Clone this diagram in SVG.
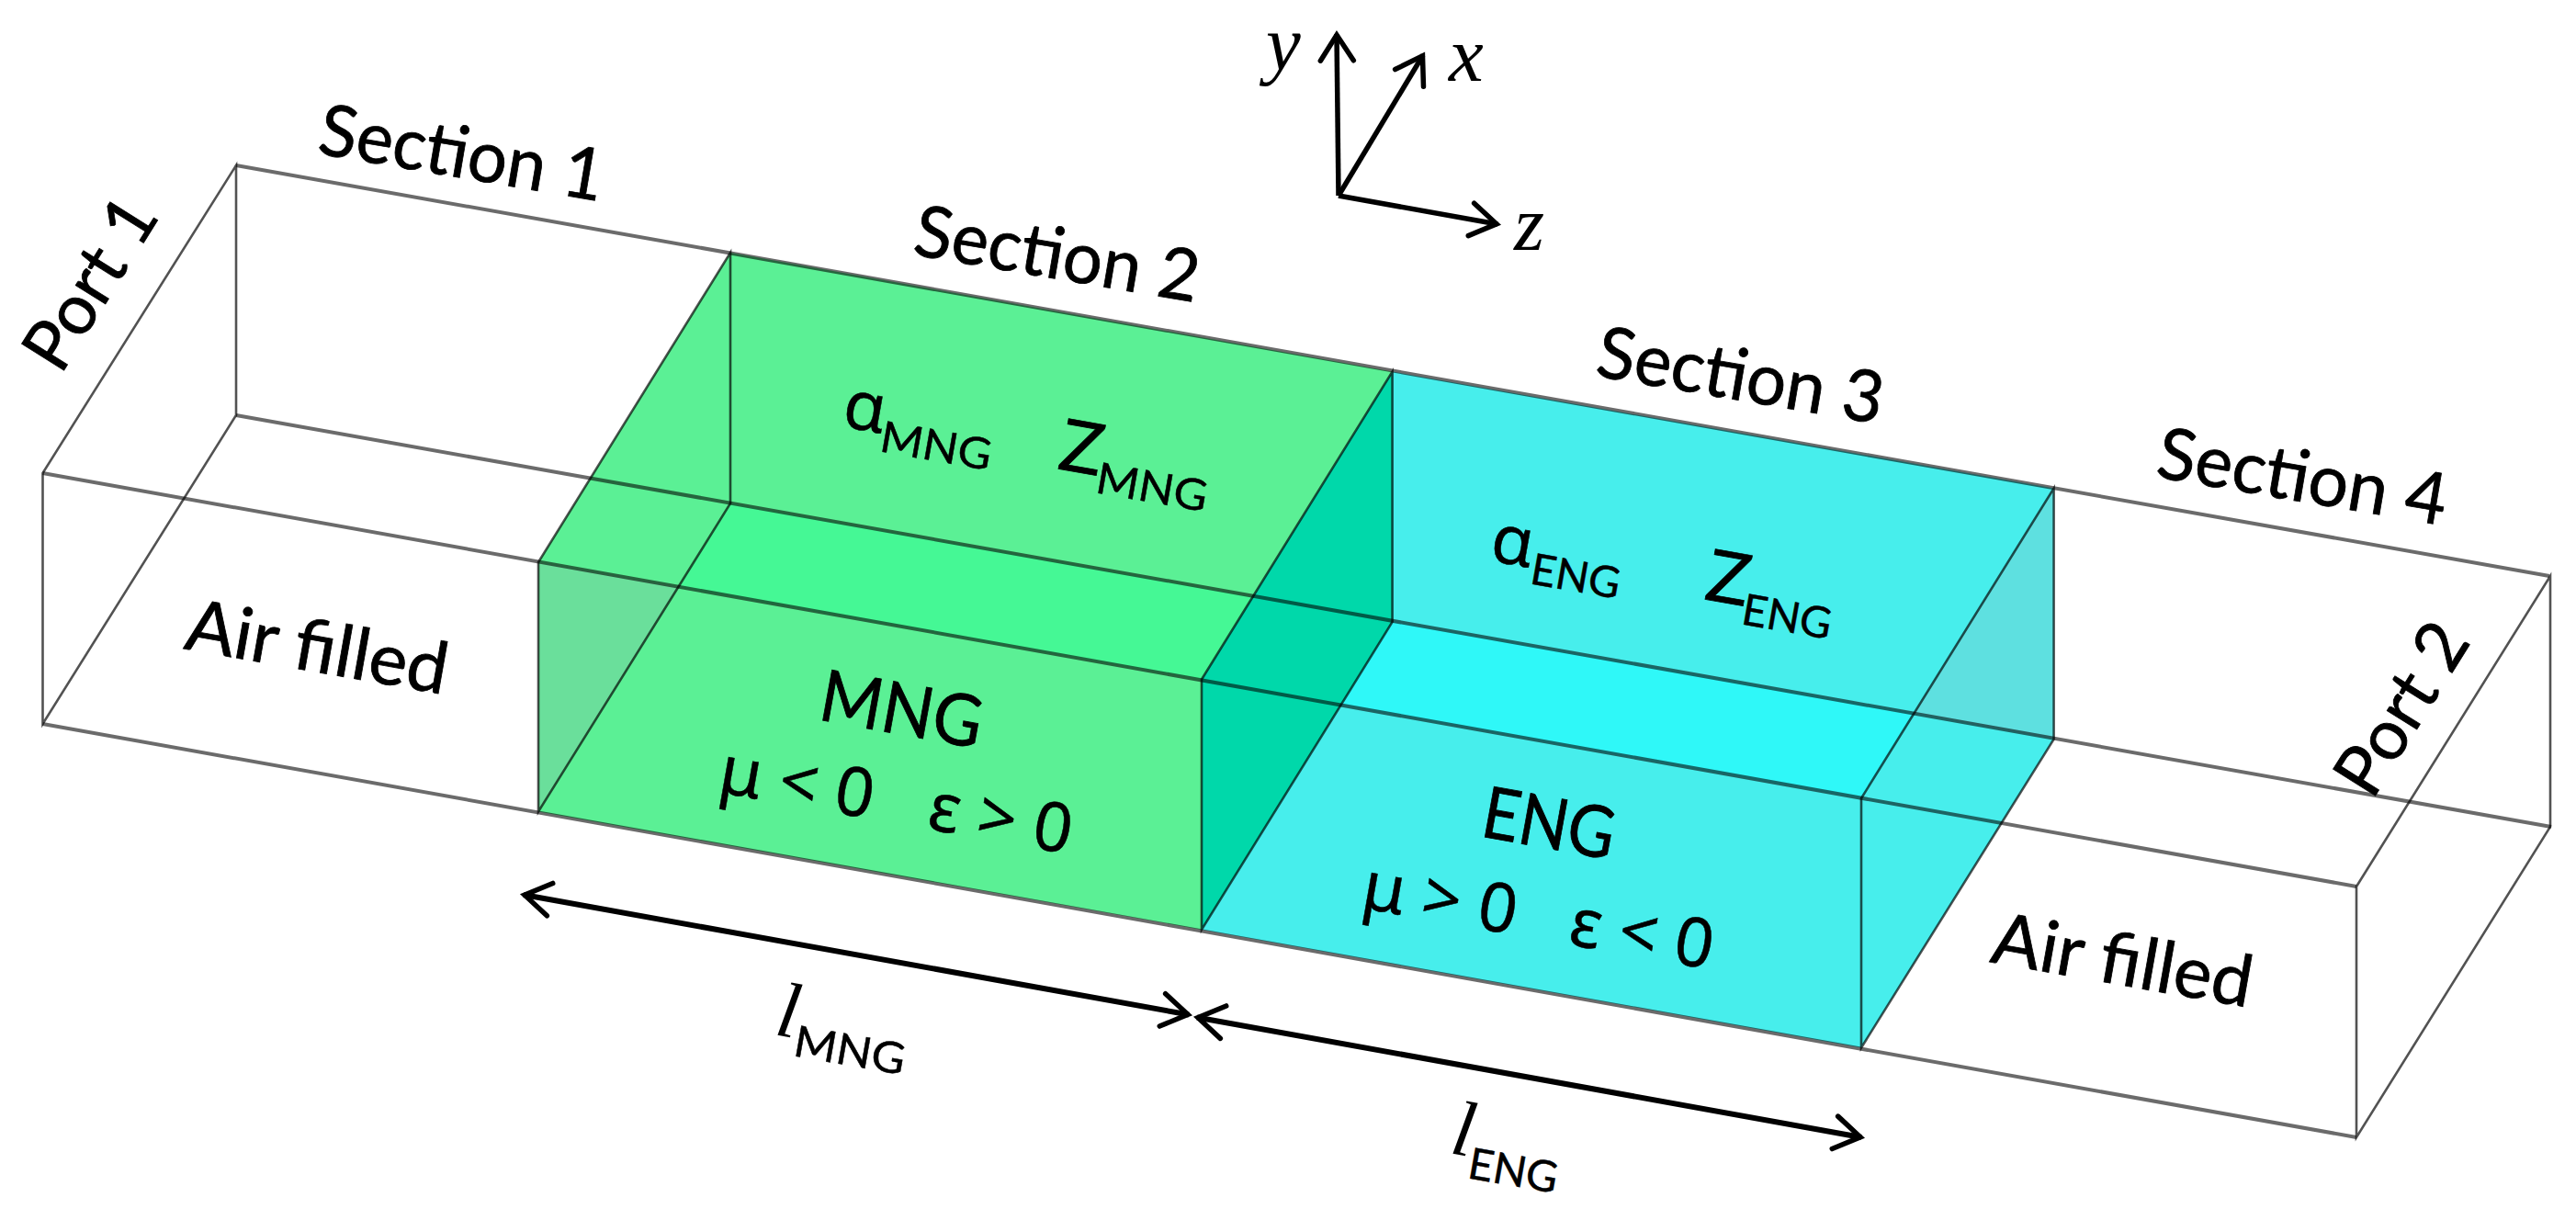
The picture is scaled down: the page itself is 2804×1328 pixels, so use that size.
<svg xmlns="http://www.w3.org/2000/svg" width="2804" height="1328" viewBox="0 0 2804 1328">
<style>
.t{font-family:Lato,"Noto Sans",sans-serif;font-size:78px;fill:#000;stroke:#000;stroke-width:.8}
.p{font-family:Lato,"Noto Sans",sans-serif;font-size:76px;fill:#000;stroke:#000;stroke-width:.8}
.s{font-family:Lato,"Noto Sans",sans-serif;font-size:47px;fill:#000;stroke:#000;stroke-width:.5}
.g{font-family:"Noto Sans",sans-serif;font-size:74px;fill:#000;stroke:#000;stroke-width:.5}
.m{font-family:"Liberation Serif",serif;font-style:italic;font-size:85px;fill:#000}
.z{fill:none;stroke:#000;stroke-opacity:.58;stroke-width:4}
.v{fill:none;stroke:#000;stroke-opacity:.68;stroke-width:2.6}
.a{fill:none;stroke:#000;stroke-width:5.5;marker-end:url(#h)}
.d{fill:none;stroke:#000;stroke-width:6;marker-start:url(#hs);marker-end:url(#h)}
</style>
<defs>
<marker id="h" markerUnits="userSpaceOnUse" markerWidth="60" markerHeight="60" refX="45" refY="30" orient="auto" overflow="visible"><path d="M16,12 L44,30 L16,48" fill="none" stroke="#000" stroke-width="5.5" stroke-linecap="round"/></marker>
<marker id="hs" markerUnits="userSpaceOnUse" markerWidth="60" markerHeight="60" refX="15" refY="30" orient="auto" overflow="visible"><path d="M44,12 L16,30 L44,48" fill="none" stroke="#000" stroke-width="5.5" stroke-linecap="round"/></marker>
</defs>
<rect width="2804" height="1328" fill="#fff"/>
<g id="mng-block">
<polygon fill="#5BF095" points="586,612 795,275 1515.6,404.5 1308,739.5 1308,1012 586,883.5"/>
<polygon fill="#45F895" points="795,548 1363.6,649.7 1308,739.5 738.4,639"/>
<polygon fill="#6ADF9B" points="586,612 738.4,639 586,883.5"/>
</g>
<g id="eng-block">
<polygon fill="#47EEEC" points="1308,739.5 1515.6,404.5 2235.6,531.5 2235.6,804.6 2026,1140.5 1308,1012"/>
<polygon fill="#2FF8F8" points="1515.6,677 2083.6,776 2026,869 1460,767"/>
<polygon fill="#5EE0E0" points="2083.6,776 2235.6,531.5 2235.6,804.6"/>
</g>
<g id="mng-eng-overlap"><polygon fill="#00D8AA" points="1308,739.5 1515.6,404.5 1515.6,677 1308,1012"/></g>
<g id="connectors">
<path class="z" d="M257,180 L2775,627 M257,452 L2777,900 M46.5,515 L2565,965 M46.5,788 L2565,1238"/>
<path class="v" d="M46.5,515 L257,180 L257,452 L46.5,788 Z M586,612 L795,275 L795,548 L586,883.5 Z M1308,739.5 L1515.6,404.5 L1515.6,677 L1308,1012 Z M2026,869 L2235.6,531.5 L2235.6,804.6 L2026,1140.5 Z M2565,965 L2776,627 L2776,900 L2565,1238 Z"/>
<path class="a" d="M1457,213 L1455,37"/>
<path class="a" d="M1457,213 L1549,60"/>
<path class="a" d="M1457,213 L1630,244"/>
<path class="d" d="M570,974 L1294,1104.5"/>
<path class="d" d="M1303,1107.5 L2026,1238"/>
</g>
<g id="axis-labels">
<text class="m" x="1378" y="76">y</text>
<text class="m" x="1577" y="88">x</text>
<text class="m" x="1648" y="272">z</text>
</g>
<g id="port-labels">
<text class="p" transform="translate(66,409) rotate(-58)" textLength="205" lengthAdjust="spacingAndGlyphs">Port 1</text>
<text class="p" transform="translate(2582,872) rotate(-58)" textLength="205" lengthAdjust="spacingAndGlyphs">Port 2</text>
</g>
<g id="section-labels">
<text class="t" transform="translate(344,167) rotate(9.6)" textLength="313" lengthAdjust="spacingAndGlyphs">Section 1</text>
<text class="t" transform="translate(992,277) rotate(9.6)" textLength="313" lengthAdjust="spacingAndGlyphs">Section 2</text>
<text class="t" transform="translate(1735,409) rotate(9.6)" textLength="315" lengthAdjust="spacingAndGlyphs">Section 3</text>
<text class="t" transform="translate(2345,519) rotate(9.6)" textLength="318" lengthAdjust="spacingAndGlyphs">Section 4</text>
</g>
<g id="air-labels">
<text class="t" transform="translate(199,706) rotate(10)" textLength="288" lengthAdjust="spacingAndGlyphs">Air filled</text>
<text class="t" transform="translate(2165,1047) rotate(10)" textLength="286" lengthAdjust="spacingAndGlyphs">Air filled</text>
</g>
<g id="mng-labels">
<text class="g" transform="translate(915,464) rotate(10)">α</text>
<text class="s" transform="translate(956,491) rotate(10)" textLength="122" lengthAdjust="spacingAndGlyphs">MNG</text>
<text class="t" transform="translate(1150,510) rotate(10)">Z</text>
<text class="s" transform="translate(1191,536) rotate(10)" textLength="122" lengthAdjust="spacingAndGlyphs">MNG</text>
<text class="t" transform="translate(889,783) rotate(10.3)" textLength="178" lengthAdjust="spacingAndGlyphs">MNG</text>
<text class="g" transform="translate(780,862) rotate(10)">μ &lt; 0<tspan dx="42"> ε &gt; 0</tspan></text>
</g>
<g id="eng-labels">
<text class="g" transform="translate(1620,610) rotate(10)">α</text>
<text class="s" transform="translate(1664,635) rotate(10)" textLength="98" lengthAdjust="spacingAndGlyphs">ENG</text>
<text class="t" transform="translate(1854,652) rotate(10)">Z</text>
<text class="s" transform="translate(1894,679) rotate(10)" textLength="98" lengthAdjust="spacingAndGlyphs">ENG</text>
<text class="t" transform="translate(1610,910) rotate(10.3)" textLength="145" lengthAdjust="spacingAndGlyphs">ENG</text>
<text class="g" transform="translate(1480,988) rotate(10)">μ &gt; 0<tspan dx="40"> ε &lt; 0</tspan></text>
</g>
<g id="length-labels">
<text class="m" transform="translate(842,1126) rotate(10)">l</text>
<text class="s" transform="translate(862,1149) rotate(10)" textLength="122" lengthAdjust="spacingAndGlyphs">MNG</text>
<text class="m" transform="translate(1577,1255) rotate(10)">l</text>
<text class="s" transform="translate(1596,1282) rotate(10)" textLength="98" lengthAdjust="spacingAndGlyphs">ENG</text>
</g>
</svg>
